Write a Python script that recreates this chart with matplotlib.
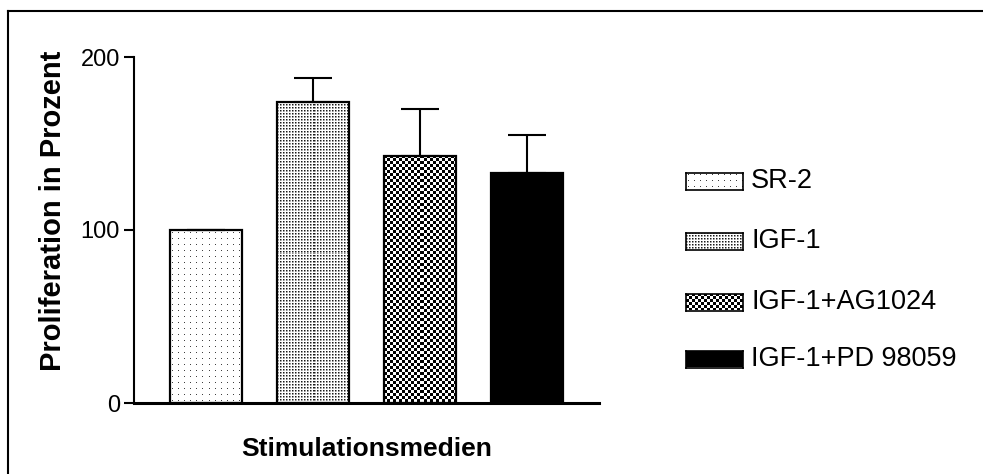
import matplotlib
matplotlib.use("Agg")
import matplotlib.pyplot as plt
import numpy as np
from matplotlib.lines import Line2D

plt.rcParams["font.family"] = ["Liberation Sans", "DejaVu Sans"]

# data
groups = ["SR-2", "IGF-1", "IGF-1+AG1024", "IGF-1+PD 98059"]
values = [100, 174, 143, 133]
err_up = [0, 14, 27, 22]
patterns = ["sparse", "fine", "checker", "solid"]
yticks = [0, 100, 200]

W, H = 983, 474
DPI = 100


def texture(kind, h, w):
    i, j = np.indices((h, w))
    img = np.ones((h, w))
    if kind == "sparse":
        img[(i % 6 == 2) & (j % 6 == 2)] = 0.25
    elif kind == "fine":
        img[(i % 3 == 0) & (j % 3 == 1)] = 0.55
        img[(i % 3 == 1) & (j % 3 == 0)] = 0.55
        img[(i % 3 == 1) & (j % 3 == 1)] = 0.75
        img[(i % 3 == 0) & (j % 3 == 0)] = 0.1
    elif kind == "checker":
        img = ((i // 3 + j // 3) % 2).astype(float)
    else:
        img[:] = 0.0
    return img


fig = plt.figure(figsize=(W / DPI, H / DPI), dpi=DPI)
ax = fig.add_axes([134 / W, 71 / H, 465 / W, 346 / H])

x = np.arange(len(groups))
width = 0.673
ax.set_xlim(-0.673, 3.673)
ax.set_ylim(0, 200)

# white base, pattern images clipped to each bar, then outlines on top
base = ax.bar(x, values, width, color="white", edgecolor="none", zorder=1)
for rect, kind in zip(base, patterns):
    x0, y0 = rect.get_x(), rect.get_y()
    x1, y1 = x0 + rect.get_width(), y0 + rect.get_height()
    (px0, py0), (px1, py1) = ax.transData.transform([(x0, y0), (x1, y1)])
    tex = texture(kind, max(int(round(py1 - py0)), 1), max(int(round(px1 - px0)), 1))
    im = ax.imshow(tex, cmap="gray", vmin=0, vmax=1, extent=(x0, x1, y0, y1),
                   interpolation="nearest", aspect="auto", zorder=2)
    im.set_clip_path(rect)
ax.bar(x, values, width, fill=False, edgecolor="black", linewidth=1.6, zorder=3)

ax.errorbar(x, values, yerr=[np.zeros(len(err_up)), err_up], fmt="none",
            ecolor="black", elinewidth=1.5, capsize=14, capthick=1.5, zorder=2.5)
ax.set_xlim(-0.673, 3.673)
ax.set_ylim(0, 200)

for side in ["top", "right"]:
    ax.spines[side].set_visible(False)
ax.spines["left"].set_linewidth(1.5)
ax.spines["bottom"].set_linewidth(2.2)
ax.set_xticks([])
ax.set_yticks(yticks)
ax.tick_params(axis="y", length=7, width=1.5, pad=3, labelsize=17)

fig.text(53 / W, 1 - 211 / H, "Proliferation in Prozent", rotation=90,
         ha="center", va="center", fontsize=21, fontweight="bold")
fig.text(367 / W, (H - 456) / H, "Stimulationsmedien", ha="center",
         va="baseline", fontsize=19, fontweight="bold")

# legend swatches drawn by hand with the same textures
centers = [181, 241, 302, 359]
for name, kind, cy in zip(groups, patterns, centers):
    sw, sh = 57, 17
    lax = fig.add_axes([686 / W, (H - cy - sh / 2) / H, sw / W, sh / H])
    lax.imshow(texture(kind, sh, sw), cmap="gray", vmin=0, vmax=1,
               interpolation="nearest", aspect="auto")
    lax.set_xticks([])
    lax.set_yticks([])
    for sp in lax.spines.values():
        sp.set_linewidth(1.2)
    fig.text(751 / W, (H - cy) / H, name, ha="left", va="center", fontsize=19.5)

# outer frame (only top and left edges are visible in the crop)
fig.add_artist(Line2D([8 / W, 1], [1 - 11 / H, 1 - 11 / H], color="black",
                      linewidth=1.5, transform=fig.transFigure))
fig.add_artist(Line2D([8 / W, 8 / W], [0, 1 - 11 / H], color="black",
                      linewidth=1.5, transform=fig.transFigure))

fig.savefig("out.png", dpi=DPI)
